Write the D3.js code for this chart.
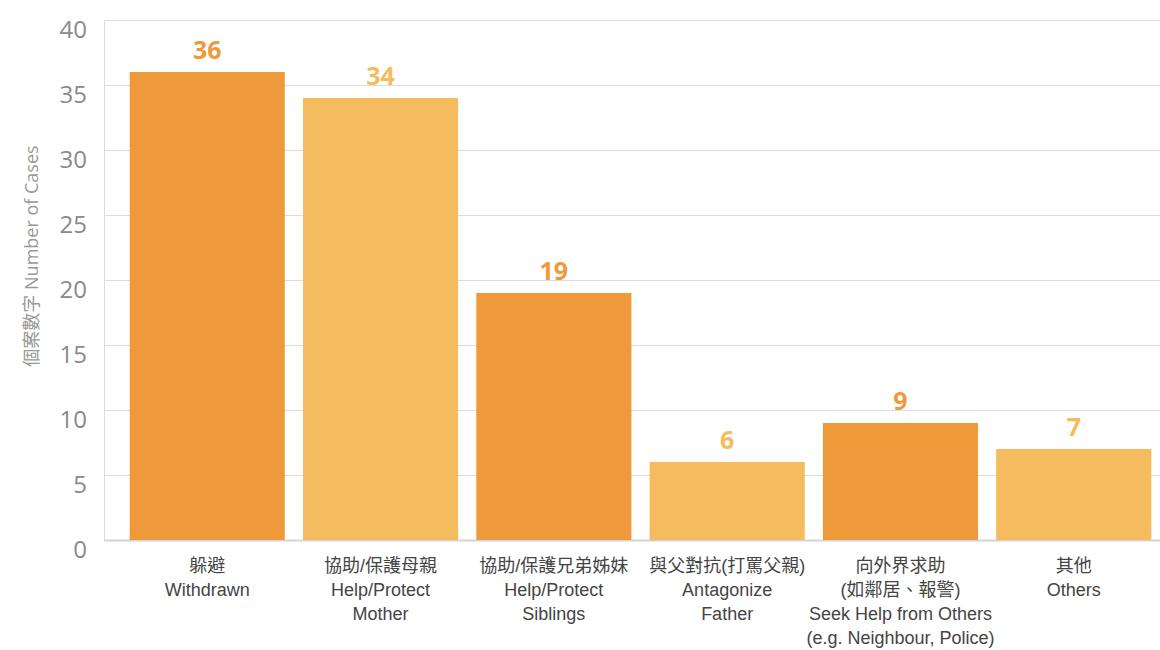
<!DOCTYPE html>
<html>
<head>
<meta charset="utf-8">
<script src="https://cdn.jsdelivr.net/npm/d3@7"></script>
<style>
  body { margin: 0; background: #fff; }
</style>
</head>
<body>
<div id="chart"></div>
<script>
const categories = [
  ["躲避", "Withdrawn"],
  ["協助/保護母親", "Help/Protect", "Mother"],
  ["協助/保護兄弟姊妹", "Help/Protect", "Siblings"],
  ["與父對抗(打罵父親)", "Antagonize", "Father"],
  ["向外界求助", "(如鄰居、報警)", "Seek Help from Others", "(e.g. Neighbour, Police)"],
  ["其他", "Others"]
];
const values = [36, 34, 19, 6, 9, 7];
const yTicks = [0, 5, 10, 15, 20, 25, 30, 35, 40];
const colors = ["#ef9a3a", "#f5bb5f"];

const width = 1160, height = 650;
const plot = { left: 104, right: 1160, top: 20, bottom: 540 };

const svg = d3
  .select("#chart")
  .append("svg")
  .attr("width", width)
  .attr("height", height);

const x = d3
  .scaleBand()
  .domain(d3.range(values.length))
  .range([121, 1160])
  .paddingInner(0.105)
  .paddingOuter(0.05);

const y = d3.scaleLinear().domain([0, 40]).range([plot.bottom, plot.top]);

// grid
svg
  .append("g")
  .selectAll("line")
  .data(yTicks.filter((d) => d > 0))
  .join("line")
  .attr("x1", plot.left)
  .attr("x2", plot.right)
  .attr("y1", (d) => y(d) + 0.5)
  .attr("y2", (d) => y(d) + 0.5)
  .attr("stroke", "#dcdcdc")
  .attr("stroke-width", 1);

// left + bottom frame
svg
  .append("line")
  .attr("x1", plot.left + 0.5)
  .attr("x2", plot.left + 0.5)
  .attr("y1", plot.top)
  .attr("y2", plot.bottom)
  .attr("stroke", "#dcdcdc");
svg
  .append("line")
  .attr("x1", plot.left)
  .attr("x2", plot.right)
  .attr("y1", plot.bottom + 0.5)
  .attr("y2", plot.bottom + 0.5)
  .attr("stroke", "#d4d4d4")
  .attr("stroke-width", 2);

// y axis labels (sit a bit below their gridline, like the original)
const yAxis = d3.axisLeft(y).tickValues(yTicks).tickSize(0).tickPadding(17);
const yG = svg
  .append("g")
  .attr("transform", `translate(${plot.left},0)`)
  .call(yAxis);
yG.select(".domain").remove();
yG.selectAll("text")
  .attr("dy", "0.32em")
  .attr("y", 10)
  .attr("fill", "#8a8a8a")
  .style("font-family", "'Open Sans', sans-serif")
  .style("font-size", "24px");

// axis title
svg
  .append("text")
  .attr("transform", `translate(38,256) rotate(-90)`)
  .attr("text-anchor", "middle")
  .attr("fill", "#999")
  .style("font-family", "'Open Sans', 'Noto Sans CJK TC', sans-serif")
  .style("font-size", "18px")
  .text("個案數字 Number of Cases");

// bars
svg
  .append("g")
  .selectAll("rect")
  .data(values)
  .join("rect")
  .attr("x", (_d, i) => x(i))
  .attr("y", (d) => y(d))
  .attr("width", x.bandwidth())
  .attr("height", (d) => y(0) - y(d))
  .attr("fill", (_d, i) => colors[i % 2]);

// value labels
svg
  .append("g")
  .selectAll("text")
  .data(values)
  .join("text")
  .attr("x", (_d, i) => x(i) + x.bandwidth() / 2)
  .attr("y", (d) => y(d) - 13)
  .attr("text-anchor", "middle")
  .attr("fill", (_d, i) => colors[i % 2])
  .style("font-family", "'Open Sans', sans-serif")
  .style("font-weight", "bold")
  .style("font-size", "25px")
  .text((d) => d);

// category labels
const catG = svg
  .append("g")
  .selectAll("text")
  .data(categories)
  .join("text")
  .attr("x", (_d, i) => x(i) + x.bandwidth() / 2)
  .attr("y", 572)
  .attr("text-anchor", "middle")
  .attr("fill", "#444")
  .style("font-family", "'Liberation Sans', 'Noto Sans CJK TC', sans-serif")
  .style("font-size", "18px");
catG
  .selectAll("tspan")
  .data((d) => d)
  .join("tspan")
  .attr("x", function () {
    return d3.select(this.parentNode).attr("x");
  })
  .attr("dy", (_d, i) => (i === 0 ? 0 : 24))
  .text((d) => d);
</script>
</body>
</html>
